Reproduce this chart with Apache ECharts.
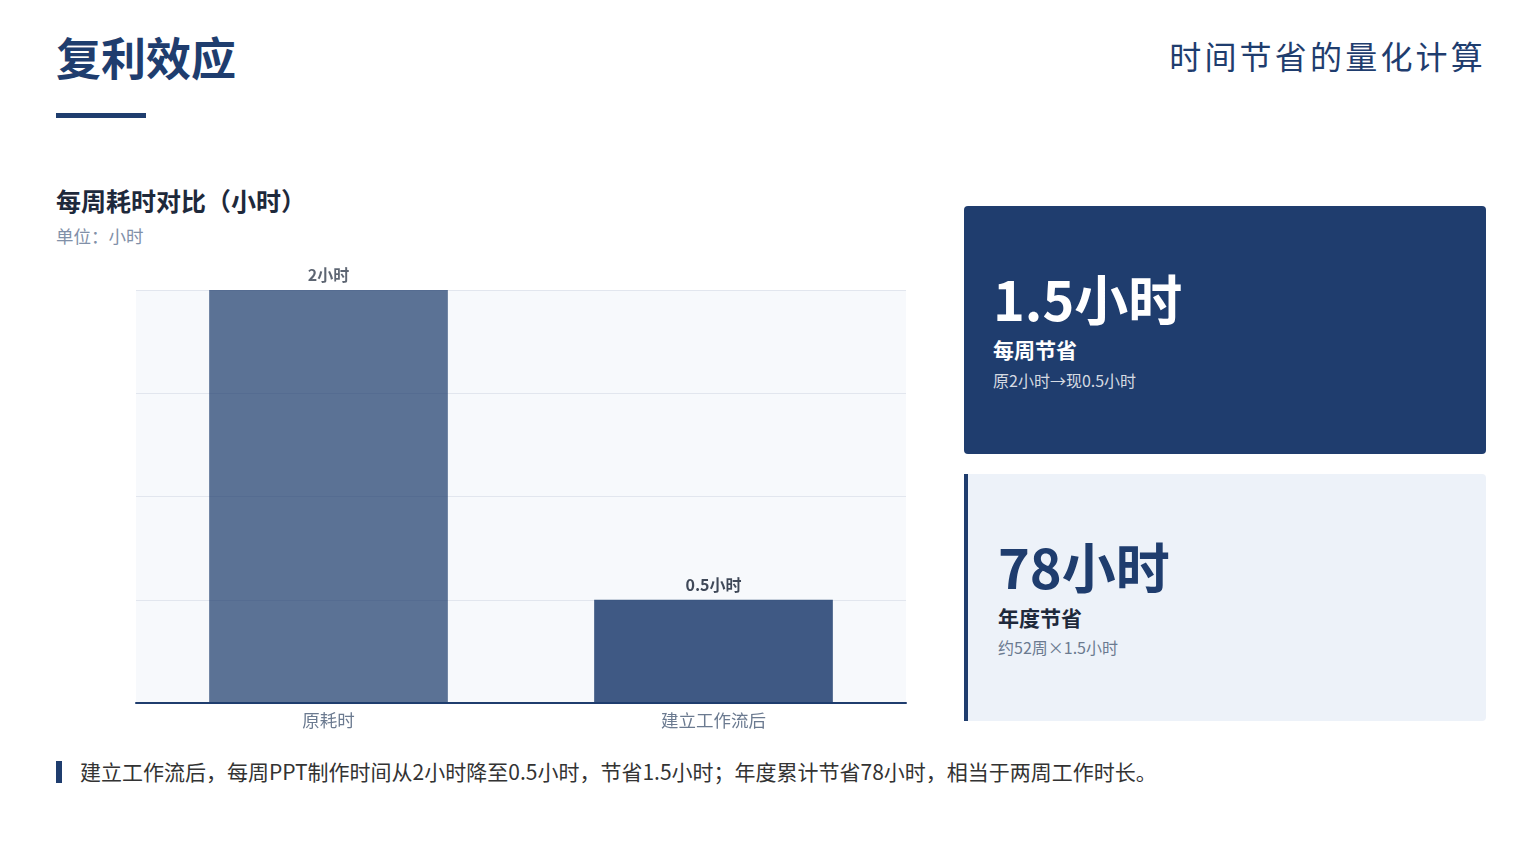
<!DOCTYPE html>
<html>
<head>
<meta charset="utf-8">
<script src="https://cdn.jsdelivr.net/npm/echarts@6/dist/echarts.min.js"></script>
<style>
  html, body { margin: 0; padding: 0; background: #fff; width: 1539px; height: 867px; overflow: hidden;
    font-family: "Noto Sans CJK SC", "Noto Sans", sans-serif; }
  .abs { position: absolute; }
  #title { left: 56px; top: 26px; font-size: 45px; font-weight: 700; color: #1f3d6e; line-height: 62px; }
  #titleLine { left: 56px; top: 113px; width: 90px; height: 5px; background: #1f3d6e; }
  #subtitle { right: 53px; top: 32px; font-size: 32px; color: #1f3d6e; letter-spacing: 3.2px; line-height: 46px; }
  #chartTitle { left: 56px; top: 182px; font-size: 25px; font-weight: 700; color: #1e293b; line-height: 36px; }
  #unit { left: 56px; top: 224px; font-size: 17.5px; color: #8190a8; line-height: 24px; }
  #chart { left: 56px; top: 250px; width: 880px; height: 500px; }
  .card { border-radius: 4px; box-sizing: border-box; }
  #card1 { left: 964px; top: 206px; width: 522px; height: 248px; background: #1f3d6e; }
  #card2 { left: 964px; top: 474px; width: 522px; height: 247px; background: #edf2f9; border-left: 4px solid #1f3d6e; border-radius: 0 4px 4px 0; }
  .big { position: absolute; font-size: 54px; font-weight: 700; line-height: 70px; }
  .lbl { position: absolute; font-size: 21px; font-weight: 700; line-height: 28px; }
  .small { position: absolute; font-size: 16px; line-height: 22px; }
  #note { left: 56px; top: 760px; height: 24px; }
  #noteBar { left: 0; top: 1px; width: 6px; height: 22px; background: #1f3d6e; }
  #noteText { left: 24px; top: -3px; font-size: 21px; color: #333; white-space: nowrap; line-height: 28px; }
</style>
</head>
<body>
<div id="title" class="abs">复利效应</div>
<div id="titleLine" class="abs"></div>
<div id="subtitle" class="abs">时间节省的量化计算</div>

<div id="chartTitle" class="abs">每周耗时对比（小时）</div>
<div id="unit" class="abs">单位：小时</div>
<div id="chart" class="abs"></div>

<div id="card1" class="abs card">
  <div class="big" style="left:29px;top:57px;color:#fff;">1.5小时</div>
  <div class="lbl" style="left:29px;top:129px;color:#fff;">每周节省</div>
  <div class="small" style="left:29px;top:163px;color:rgba(255,255,255,0.82);">原2小时→现0.5小时</div>
</div>
<div id="card2" class="abs card">
  <div class="big" style="left:30px;top:57px;color:#1f3d6e;">78小时</div>
  <div class="lbl" style="left:30px;top:129px;color:#1e293b;">年度节省</div>
  <div class="small" style="left:30px;top:162px;color:#6b7a90;">约52周×1.5小时</div>
</div>

<div id="note" class="abs">
  <div id="noteBar" class="abs"></div>
  <div id="noteText" class="abs">建立工作流后，每周PPT制作时间从2小时降至0.5小时，节省1.5小时；年度累计节省78小时，相当于两周工作时长。</div>
</div>

<script>
var categories = ['原耗时', '建立工作流后']
var hours = [2, 0.5]
var barLabels = ['2小时', '0.5小时']
var barOpacity = [0.72, 0.85]

var myChart = echarts.init(document.getElementById('chart'))
var options = {
  animation: false,
  grid: {
    left: 80,
    right: 30,
    top: 40,
    bottom: 47,
    show: true,
    backgroundColor: '#f7f9fc',
    borderWidth: 0,
  },
  xAxis: {
    type: 'category',
    data: categories,
    axisLine: { lineStyle: { color: '#1f3d6e', width: 2 } },
    axisTick: { show: false },
    axisLabel: {
      color: '#6b7a90',
      fontSize: 17.5,
      margin: 9,
      fontFamily: 'Noto Sans CJK SC',
    },
  },
  yAxis: {
    type: 'value',
    min: 0,
    max: 2,
    interval: 0.5,
    axisLabel: { show: false },
    axisLine: { show: false },
    axisTick: { show: false },
    splitLine: { lineStyle: { color: '#e2e6ee', width: 1 } },
  },
  series: [
    {
      type: 'bar',
      barWidth: '62%',
      data: hours.map(function (v, i) {
        return {
          value: v,
          itemStyle: { color: '#1f3d6e', opacity: barOpacity[i] },
        }
      }),
      label: {
        show: true,
        position: 'top',
        distance: 7,
        color: '#1e293b',
        fontSize: 16,
        fontWeight: 'bold',
        fontFamily: 'Noto Sans CJK SC',
        formatter: function (p) {
          return barLabels[p.dataIndex]
        },
      },
    },
  ],
}
myChart.setOption(options)
</script>
</body>
</html>
